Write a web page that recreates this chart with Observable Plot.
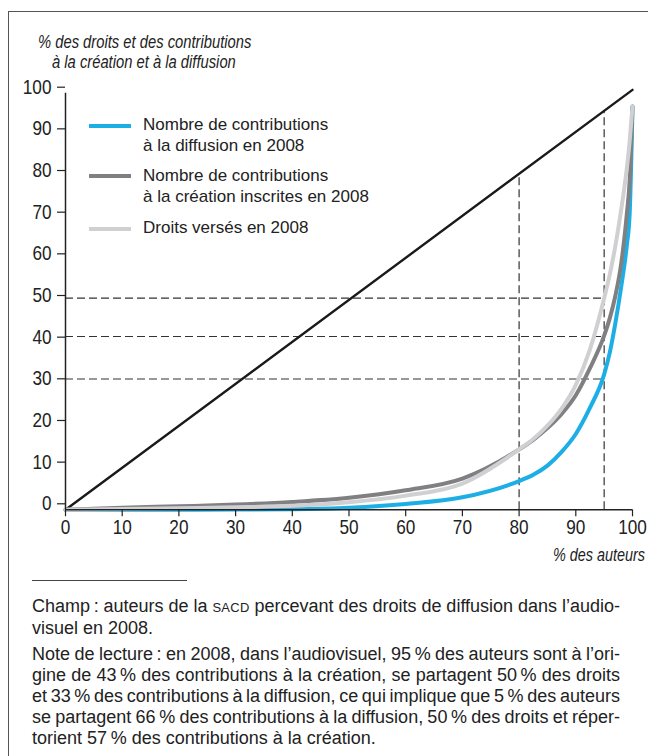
<!DOCTYPE html>
<html>
<head>
<meta charset="utf-8">
<script src="https://cdn.jsdelivr.net/npm/d3@7"></script>
<script src="https://cdn.jsdelivr.net/npm/@observablehq/plot@0.6"></script>
<style>
  html, body { margin: 0; padding: 0; background: #fff; }
  #wrap { position: relative; width: 648px; height: 756px; overflow: hidden; background: #fff; }
  .frameTop { position: absolute; left: 8px; top: 11px; width: 640px; height: 0; border-top: 1.5px solid #555; }
  .frameLeft { position: absolute; left: 8px; top: 11px; width: 0; height: 745px; border-left: 1.5px solid #555; }
  .ytitle { position: absolute; font-family: "Liberation Sans", Arial, sans-serif; font-style: italic; font-size: 18px; color: #222; line-height: 20px; white-space: nowrap; transform: scaleX(0.82); transform-origin: 0 50%; }
  .xtitle { position: absolute; font-family: "Liberation Sans", Arial, sans-serif; font-style: italic; font-size: 18px; color: #222; white-space: nowrap; transform: scaleX(0.8); transform-origin: 100% 50%; }
  .legend { position: absolute; font-family: "Liberation Sans", Arial, sans-serif; font-size: 17px; color: #222; line-height: 21px; white-space: nowrap; }
  .swatch { position: absolute; width: 42px; height: 4px; }
  .notes { position: absolute; left: 32px; width: 588px; font-family: "Liberation Sans", Arial, sans-serif; font-size: 18px; color: #222; line-height: 21px; }
  .notes .ln { white-space: nowrap; }
  .rule { position: absolute; left: 32px; top: 580px; width: 155px; height: 0; border-top: 1.2px solid #444; }
  .sc { font-size: 0.72em; letter-spacing: 0.3px; }
</style>
</head>
<body>
<div id="wrap">
  <div class="frameTop"></div>
  <div class="frameLeft"></div>
  <div id="chart" style="position:absolute;left:0;top:0;"></div>
  <div class="ytitle" style="left:38px;top:32px;">% des droits et des contributions</div>
  <div class="ytitle" style="left:52px;top:52px;">à la création et à la diffusion</div>
  <div class="xtitle" style="right:3px;top:545px;">% des auteurs</div>
  <div id="legend"></div>
  <div class="rule"></div>
  <div class="notes" style="top:596px;">
    <div class="ln"><span class="t">Champ&#8239;: auteurs de la <span class="sc">SACD</span> percevant des droits de diffusion dans l’audio-</span></div>
    <div class="ln last"><span class="t">visuel en 2008.</span></div>
  </div>
  <div class="notes" style="top:644px;">
    <div class="ln"><span class="t">Note de lecture&#8239;: en 2008, dans l’audiovisuel, 95&#8239;% des auteurs sont à l’ori-</span></div>
    <div class="ln"><span class="t">gine de 43&#8239;% des contributions à la création, se partagent 50&#8239;% des droits</span></div>
    <div class="ln"><span class="t">et 33&#8239;% des contributions à la diffusion, ce qui implique que 5&#8239;% des auteurs</span></div>
    <div class="ln"><span class="t">se partagent 66&#8239;% des contributions à la diffusion, 50&#8239;% des droits et réper-</span></div>
    <div class="ln last"><span class="t">torient 57&#8239;% des contributions à la création.</span></div>
  </div>
</div>
<script>
// ---- data ----
const authorsPct = [0, 10, 20, 30, 40, 50, 60, 70, 80, 82.5, 85, 87.5, 90, 92.5, 95, 96, 97, 98, 99, 99.5, 100];
const diffusion  = [0, 0, 0.02, 0.05, 0.15, 0.5, 1.4, 3.0, 6.9, 8.4, 10.6, 13.9, 18.2, 24.5, 32.5, 37.8, 45, 53.5, 63.5, 71, 96.8];
const creation   = [0, 0.5, 0.85, 1.25, 1.9, 2.9, 4.7, 7.5, 14.5, 16.8, 19.6, 23, 27.5, 34, 41.8, 46, 51.5, 59, 71, 79, 96.8];
const droits     = [0, 0.2, 0.4, 0.6, 0.95, 1.8, 3.4, 6.3, 14.5, 17, 20.2, 24.3, 30, 38.5, 50.8, 56.5, 63.5, 72, 82, 88.5, 96.8];
const equalityX  = [0, 100];
const equalityY  = [0, 100.8];
const refAuthors = [80, 95];
const refShares  = [50.8, 41.6, 31.4];
const xTicks = [0, 10, 20, 30, 40, 50, 60, 70, 80, 90, 100];
const yTicks = [0, 10, 20, 30, 40, 50, 60, 70, 80, 90, 100];
const seriesNames = [
  ["Nombre de contributions", "à la diffusion en 2008"],
  ["Nombre de contributions", "à la création inscrites en 2008"],
  ["Droits versés en 2008"]
];
const seriesColors = ["#1eaee6", "#808083", "#d0d0d2"];

// ---- tables ----
const series = [diffusion, creation, droits];
const rows = [];
series.forEach((vals, s) => authorsPct.forEach((x, i) => rows.push({x, y: vals[i], s})));
const diag = equalityX.map((x, i) => ({x, y: equalityY[i]}));
const diagAt = x => d3.scaleLinear().domain(equalityX).range(equalityY)(x);
const vRules = refAuthors.map(x => ({x, y1: 0, y2: diagAt(x)}));
const hRules = refShares.map(y => ({y, x1: 0, x2: d3.max(refAuthors)}));

const chart = Plot.plot({
  width: 648,
  height: 570,
  marginLeft: 65,
  marginRight: 16,
  marginTop: 92.7,
  marginBottom: 60.7,
  x: {domain: [0, 100]},
  y: {domain: [0, 100]},
  style: {fontFamily: '"Liberation Sans", Arial, sans-serif', fontSize: "20px", color: "#222", background: "transparent", overflow: "visible"},
  marks: [
    Plot.ruleY(hRules, {y: "y", x1: "x1", x2: "x2", stroke: "#333", strokeWidth: 1.2, strokeDasharray: "8,4"}),
    Plot.ruleX(vRules, {x: "x", y1: "y1", y2: "y2", stroke: "#333", strokeWidth: 1.2, strokeDasharray: "8,4"}),
    Plot.line(diag, {x: "x", y: "y", stroke: "#1a1a1a", strokeWidth: 2.4}),
    Plot.line(rows.filter(d => d.s === 0), {x: "x", y: "y", stroke: seriesColors[0], strokeWidth: 4, curve: "monotone-x"}),
    Plot.line(rows.filter(d => d.s === 1), {x: "x", y: "y", stroke: seriesColors[1], strokeWidth: 4, curve: "monotone-x"}),
    Plot.line(rows.filter(d => d.s === 2), {x: "x", y: "y", stroke: seriesColors[2], strokeWidth: 4, curve: "monotone-x"}),
    Plot.ruleX([0], {stroke: "#222", strokeWidth: 1.5}),
    Plot.ruleY([0], {stroke: "#222", strokeWidth: 1.5}),
    Plot.axisY({ticks: yTicks, tickSize: 8, tickPadding: 6, dy: -6, label: null, fontSize: 20, stroke: "#222", strokeWidth: 1.2}),
    Plot.axisX({ticks: xTicks, tickSize: 7, tickPadding: 3, label: null, fontSize: 20, stroke: "#222", strokeWidth: 1.2})
  ]
});
// condense the tick labels horizontally (reference uses a condensed face)
chart.querySelectorAll('g[aria-label$="tick label"] text').forEach(t => {
  const tr = t.getAttribute("transform");
  if (tr) t.setAttribute("transform", tr + " scale(0.86,1)");
  else {
    const x = +t.getAttribute("x") || 0, y = +t.getAttribute("y") || 0;
    t.removeAttribute("x"); t.removeAttribute("y");
    t.setAttribute("transform", `translate(${x},${y}) scale(0.86,1)`);
  }
});
document.getElementById("chart").appendChild(chart);

// ---- legend (HTML overlay) ----
const legend = document.getElementById("legend");
const legendTops = [114, 165, 217];
const swatchTops = [124, 174, 227];
seriesNames.forEach((lines, i) => {
  const sw = document.createElement("div");
  sw.className = "swatch";
  sw.style.left = "89px";
  sw.style.top = swatchTops[i] + "px";
  sw.style.background = seriesColors[i];
  legend.appendChild(sw);
  const t = document.createElement("div");
  t.className = "legend";
  t.style.left = "143px";
  t.style.top = legendTops[i] + "px";
  t.innerHTML = lines.join("<br>");
  legend.appendChild(t);
});

// ---- justify note lines via word-spacing ----
document.querySelectorAll(".notes .ln").forEach(el => {
  const span = el.querySelector(".t");
  const w = span.getBoundingClientRect().width;
  const n = (span.textContent.match(/ /g) || []).length;
  if (el.classList.contains("last")) {
    if (w > 588) el.style.wordSpacing = ((588 - w) / n) + "px";
  } else if (n > 0) {
    el.style.wordSpacing = ((588 - w) / n) + "px";
  }
});
</script>
</body>
</html>
